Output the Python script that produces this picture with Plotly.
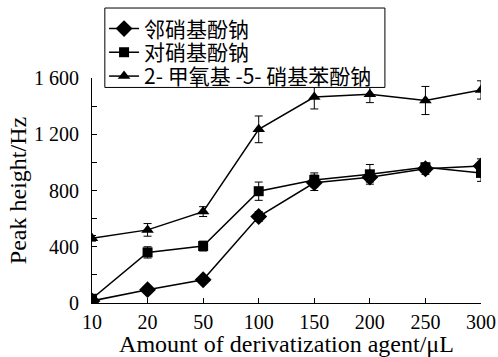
import plotly.graph_objects as go

categories = ["10", "20", "50", "100", "150", "200", "250", "300"]
names = ["邻硝基酚钠", "对硝基酚钠", "2- 甲氧基 -5- 硝基苯酚钠"]
o_vals = [15, 95, 165, 615, 855, 895, 955, 975]
o_err = [10, 12, 15, 35, 55, 35, 40, 50]
p_vals = [30, 360, 405, 795, 875, 915, 965, 925]
p_err = [10, 40, 35, 65, 50, 70, 20, 60]
m_vals = [460, 520, 650, 1235, 1465, 1485, 1440, 1515]
m_err = [20, 45, 35, 95, 85, 60, 100, 65]

series = [
    (names[0], o_vals, o_err, "diamond", 13, "legend"),
    (names[1], p_vals, p_err, "square", 10, "legend2"),
    (names[2], m_vals, m_err, "triangle-up", 11, "legend3"),
]

fig = go.Figure()
for name, vals, err, sym, size, lg in series:
    fig.add_trace(go.Scatter(
        x=list(range(len(categories))), y=vals, name=name, mode="lines+markers",
        line=dict(color="black", width=1.5),
        marker=dict(symbol=sym, size=size, color="black"),
        error_y=dict(type="data", array=err, visible=True, color="black", thickness=1, width=4),
        legend=lg,
    ))

legend_font = dict(family="Noto Sans CJK SC", size=21, color="black")
legend_common = dict(x=0.031, xanchor="left", yanchor="middle", borderwidth=0,
                     bgcolor="rgba(0,0,0,0)", font=legend_font, itemwidth=30)

fig.update_layout(
    width=498, height=357,
    margin=dict(l=92, r=17, t=78, b=54, autoexpand=False),
    paper_bgcolor="white", plot_bgcolor="white",
    separators=". ",
    font=dict(family="Liberation Serif", size=20, color="black"),
    showlegend=True,
    legend=dict(y=1.218, **legend_common),
    legend2=dict(y=1.113, **legend_common),
    legend3=dict(y=1.007, **legend_common),
    shapes=[dict(type="rect", xref="paper", yref="paper",
                 x0=0.033, x1=0.753, y0=0.958, y1=1.311,
                 line=dict(color="black", width=1), fillcolor="white", layer="above")],
)
fig.update_xaxes(
    tickvals=list(range(len(categories))), ticktext=categories,
    range=[0, len(categories) - 1], automargin=False,
    showline=True, linecolor="black", linewidth=1,
    ticks="inside", ticklen=5, tickcolor="black",
    showgrid=False, zeroline=False,
    ticklabelstandoff=1,
    title=dict(text="Amount of derivatization agent/μL", standoff=3),
    tickfont=dict(size=20),
)
fig.update_yaxes(
    range=[0, 1600], tickvals=[0, 400, 800, 1200, 1600], tickformat=",d",
    automargin=False,
    showline=True, linecolor="black", linewidth=1,
    ticks="inside", ticklen=5, tickcolor="black",
    minor=dict(tickvals=[200, 600, 1000, 1400], ticks="inside", ticklen=5, tickcolor="black"),
    showgrid=False, zeroline=False,
    ticklabelstandoff=8,
    title=dict(text="Peak height/Hz", standoff=0),
    tickfont=dict(size=20),
)
fig.write_html("out.html", config={"displayModeBar": False},
               post_script="document.body.style.margin='0';")
